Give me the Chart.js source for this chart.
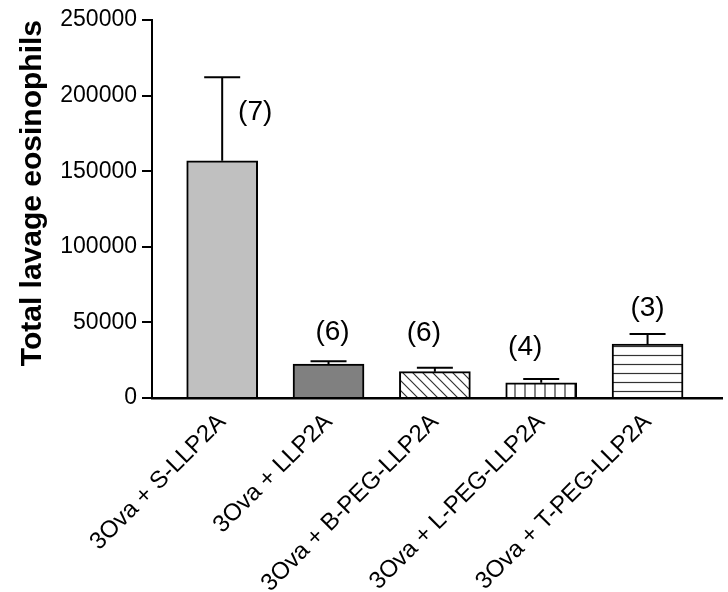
<!DOCTYPE html>
<html>
<head>
<meta charset="utf-8">
<script src="https://cdn.jsdelivr.net/npm/chart.js@4/dist/chart.umd.min.js"></script>
<style>
  html, body { margin: 0; padding: 0; background: #fff; }
</style>
</head>
<body>
<canvas id="myChart" width="728" height="592"></canvas>
<script>
// groups and their means / SEM
var groups = ["3Ova + S-LLP2A", "3Ova + LLP2A", "3Ova + B-PEG-LLP2A", "3Ova + L-PEG-LLP2A", "3Ova + T-PEG-LLP2A"];
var means = [156900, 22500, 17400, 10100, 35700];
var sems = [55200, 1800, 2650, 2450, 6600];
var counts = ["(7)", "(6)", "(6)", "(4)", "(3)"];
var yTicks = [0, 50000, 100000, 150000, 200000, 250000];

var FONT = "'Liberation Sans', Arial, Helvetica, sans-serif";

// fill patterns like the original figure
function hatch(kind) {
	var c = document.createElement('canvas');
	var s = kind === 'horizontal' ? 9 : 10;
	c.width = s; c.height = s;
	var g = c.getContext('2d');
	g.fillStyle = '#fff';
	g.fillRect(0, 0, s, s);
	g.strokeStyle = '#333';
	g.lineWidth = 1.2;
	g.beginPath();
	if (kind === 'diagonal') {
		g.moveTo(-1, -1); g.lineTo(s + 1, s + 1);
		g.moveTo(-1, s - 1); g.lineTo(1, s + 1);
		g.moveTo(s - 1, -1); g.lineTo(s + 1, 1);
	}
	if (kind === 'vertical') { g.moveTo(s / 2, 0); g.lineTo(s / 2, s); }
	if (kind === 'horizontal') { g.moveTo(0, s / 2); g.lineTo(s, s / 2); }
	g.stroke();
	return g.createPattern(c, 'repeat');
}

var fills = ['#c0c0c0', '#808080', hatch('diagonal'), hatch('vertical'), hatch('horizontal')];

// error bars (upper only) + n labels
var labelDx = [33, 4, -11, -16, 0];
var labelDy = [35, -29, -34, -32, -26];
var errorBars = {
	id: 'errorBars',
	afterDatasetsDraw: function(chart) {
		var ctx = chart.ctx;
		var y = chart.scales.y;
		var bars = chart.getDatasetMeta(0).data;
		ctx.save();
		ctx.strokeStyle = '#000';
		ctx.lineWidth = 2;
		bars.forEach(function(bar, i) {
			var top = y.getPixelForValue(means[i] + sems[i]);
			ctx.beginPath();
			ctx.moveTo(bar.x, bar.y);
			ctx.lineTo(bar.x, top);
			ctx.moveTo(bar.x - 18, top);
			ctx.lineTo(bar.x + 18, top);
			ctx.stroke();
			ctx.fillStyle = '#000';
			ctx.font = '28px ' + FONT;
			ctx.textAlign = 'center';
			ctx.textBaseline = 'middle';
			ctx.fillText(counts[i], bar.x + labelDx[i], top + labelDy[i]);
		});
		ctx.restore();
	}
};

var ctx = document.getElementById("myChart").getContext("2d");
var myChart = new Chart(ctx, {
	type: 'bar',
	data: {
		datasets: [{
			data: means.map(function(v, i) { return {x: i, y: v}; }),
			backgroundColor: fills,
			borderColor: '#000',
			borderWidth: 2,
			barThickness: 71
		}]
	},
	options: {
		responsive: false,
		animation: false,
		layout: { padding: { left: 15, right: 6, top: 20, bottom: 0 } },
		plugins: { legend: { display: false }, tooltip: { enabled: false } },
		scales: {
			x: {
				type: 'linear',
				offset: false,
				min: -0.66,
				max: 4.7,
				afterBuildTicks: function(s) {
					s.ticks = groups.map(function(g, i) { return {value: i}; });
				},
				afterFit: function(s) { s.height = 194; },
				grid: { display: false, drawTicks: false, offset: false },
				border: { display: true, color: '#000', width: 2.5 },
				ticks: {
					autoSkip: false,
					minRotation: 45,
					maxRotation: 45,
					padding: 10,
					color: '#000',
					font: { family: FONT, size: 24 },
					callback: function(v) { return groups[v]; }
				}
			},
			y: {
				min: 0,
				max: 250000,
				afterBuildTicks: function(s) {
					s.ticks = yTicks.map(function(v) { return {value: v}; });
				},
				afterFit: function(s) { s.width = 137; },
				grid: { drawOnChartArea: false, drawTicks: true, tickLength: 10, color: '#000', lineWidth: 2 },
				border: { display: true, color: '#000', width: 2 },
				ticks: {
					padding: 5,
					color: '#000',
					font: { family: FONT, size: 23 },
					callback: function(v) { return String(v); }
				},
				title: {
					display: true,
					text: 'Total lavage eosinophils',
					align: 'end',
					color: '#000',
					padding: 0,
					font: { family: FONT, size: 30, weight: 'bold' }
				}
			}
		}
	},
	plugins: [errorBars]
});
</script>
</body>
</html>
